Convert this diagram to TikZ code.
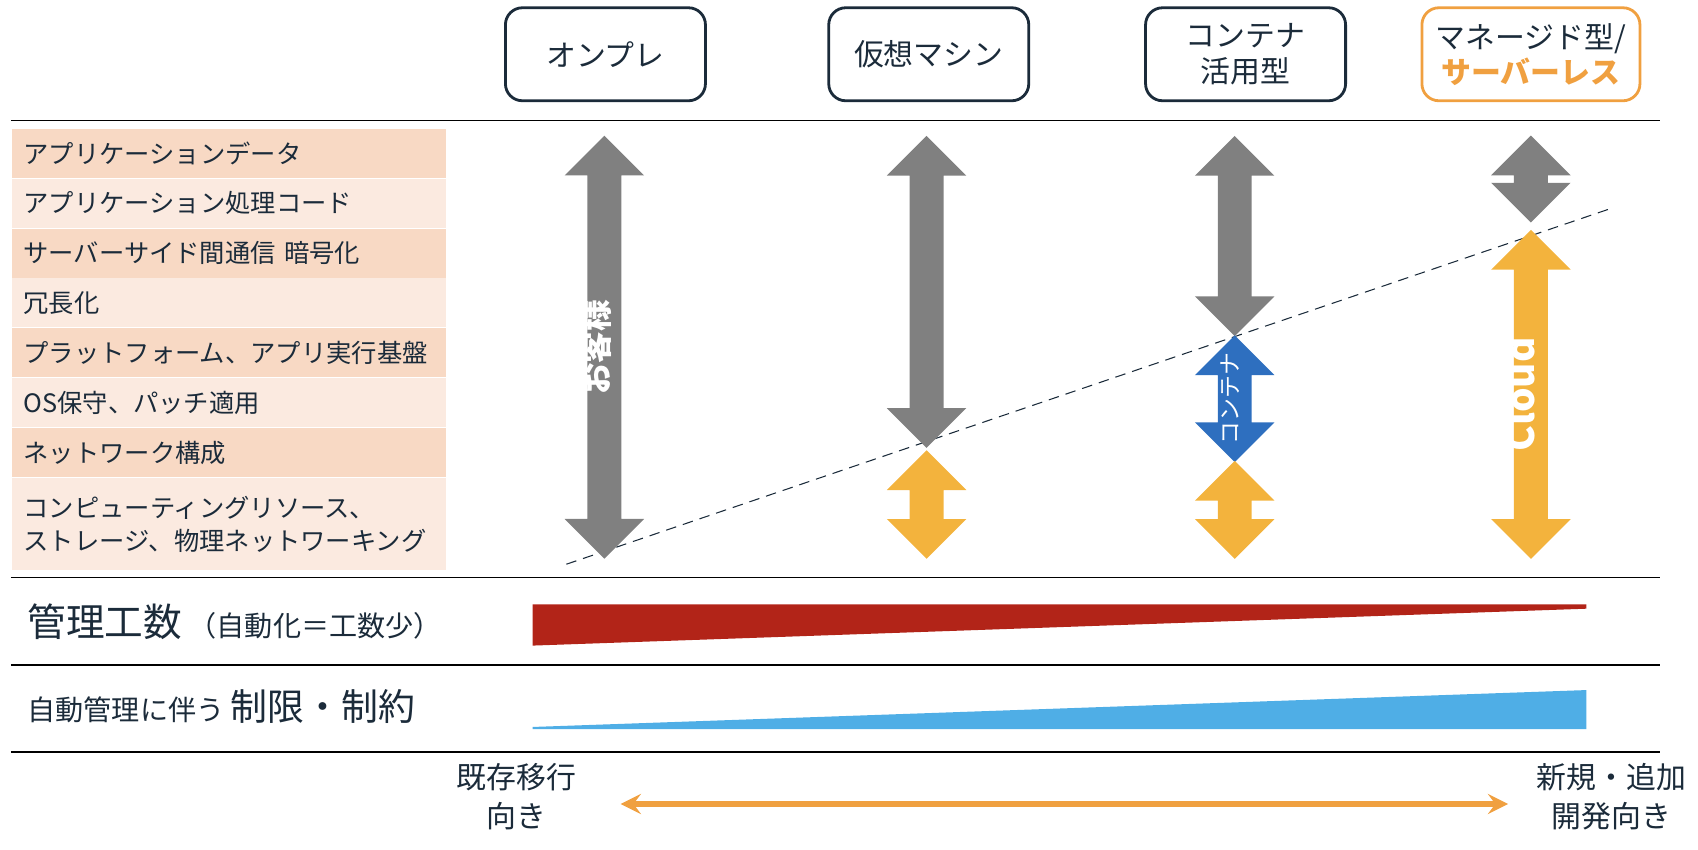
\documentclass[tikz,border=0pt]{standalone}
\usepackage{fontspec}
\setmainfont{Noto Sans CJK JP}
\usetikzlibrary{shapes.arrows, arrows}
\definecolor{navy}{HTML}{1B2B3A}
\definecolor{boxorange}{HTML}{F0A040}
\definecolor{rowdark}{HTML}{F8D9C4}
\definecolor{rowlight}{HTML}{FBEAE0}
\definecolor{agray}{HTML}{808080}
\definecolor{aorange}{HTML}{F3B33D}
\definecolor{ablue}{HTML}{2E6FBF}
\definecolor{wedgered}{HTML}{B22418}
\definecolor{wedgeblue}{HTML}{4FAEE6}
\tikzstyle{head} = [rectangle, rounded corners=0.17cm, minimum width=2cm, minimum height=0.93cm, text centered, align=center, draw=navy, line width=0.8pt, font=\fontsize{8.5}{10}\selectfont, text=navy]
\tikzstyle{rowd} = [rectangle, minimum width=4.34cm, minimum height=0.49cm, fill=rowdark, anchor=north west, inner sep=0.12cm, text width=4.1cm, align=left, font=\fontsize{7.2}{9.5}\selectfont, text=navy]
\tikzstyle{rowl} = [rowd, fill=rowlight]
\tikzstyle{darr} = [double arrow, rotate=90, text height=0.2cm, text depth=0.125cm, double arrow head extend=0.228cm, double arrow tip angle=90, inner sep=0pt, text=white, font=\fontsize{7.5}{9}\selectfont]
\tikzstyle{rule} = [line width=0.4pt, black]
\begin{document}
\begin{tikzpicture}[x=0.01085cm, y=-0.01085cm]
        \useasboundingbox (0,0) rectangle (1565,783);
        % headers
        \node (onp) [head] at (558,50) {オンプレ};
        \node (vm) [head] at (856,50) {仮想マシン};
        \node (ctr) [head] at (1148,50) {コンテナ\\活用型};
        \node (srv) [head, draw=boxorange, minimum width=2.18cm] at (1411,50) {マネージド型/\\\textcolor{boxorange}{\bfseries サーバーレス}};
        
        % rules
        \coordinate (r1a) at (10,111); \coordinate (r1b) at (1530,111);
        \coordinate (r2a) at (10,532); \coordinate (r2b) at (1530,532);
        \coordinate (r3a) at (10,613); \coordinate (r3b) at (1530,613);
        \coordinate (r4a) at (10,693); \coordinate (r4b) at (1530,693);
        \draw [rule] (r1a) -- (r1b);
        \draw [rule] (r2a) -- (r2b);
        \draw [rule] (r3a) -- (r3b);
        \draw [rule] (r4a) -- (r4b);
        
        % layers
        \node (l1) [rowd] at (10,118) {アプリケーションデータ};
        \node (l2) [rowl] at (10,164) {アプリケーション処理コード};
        \node (l3) [rowd] at (10,210) {サーバーサイド間通信 暗号化};
        \node (l4) [rowl] at (10,256) {冗長化};
        \node (l5) [rowd] at (10,302) {プラットフォーム、アプリ実行基盤};
        \node (l6) [rowl] at (10,348) {OS保守、パッチ適用};
        \node (l7) [rowd] at (10,394) {ネットワーク構成};
        \node (l8) [rowl, minimum height=0.92cm] at (10,440) {コンピューティングリソース、\\ストレージ、物理ネットワーキング};
        
        % boundary
        \coordinate (bs) at (522,520); \coordinate (be) at (1488,191);
        \draw [densely dashed, line width=0.3pt, navy] (bs) -- (be);
        
        % responsibility arrows
        \node (a1) [darr, fill=agray, minimum height=4.23cm] at (557,320) {\fontsize{9}{10}\selectfont\bfseries お客様};
        \node (a2u) [darr, fill=agray, minimum height=3.12cm] at (854,269) {};
        \node (a2c) [darr, fill=aorange, minimum height=1.085cm] at (854,465) {};
        \node (a3u) [darr, fill=agray, minimum height=2.0cm] at (1138,217.5) {};
        \node (a3k) [darr, fill=ablue, minimum height=1.25cm] at (1138,367.5) {\fontsize{6.5}{8}\selectfont コンテナ};
        \node (a3c) [darr, fill=aorange, minimum height=0.98cm] at (1138,470) {};
        \node (a4u) [darr, fill=agray, minimum height=0.87cm] at (1411,165) {};
        \node (a4c) [darr, fill=aorange, minimum height=3.29cm] at (1411,363.5) {\fontsize{11}{12}\selectfont\bfseries Cloud};
        
        % effort and limits
        \node (eff) [anchor=west, text=navy] at (14,573) {\fontsize{11}{13}\selectfont 管理工数\,\fontsize{8}{10}\selectfont（自動化＝工数少）};
        \fill [wedgered] (491,557) -- (1462,557) -- (1462,561) -- (491,595) -- cycle;
        \node (lim) [anchor=west, text=navy] at (14,651) {\fontsize{8}{10}\selectfont 自動管理に伴う \fontsize{10.5}{12}\selectfont 制限・制約};
        \fill [wedgeblue] (491,670) -- (1462,636) -- (1462,672) -- (491,672) -- cycle;
        
        % migration axis
        \node (old) [align=center, text=navy, font=\fontsize{8.5}{11}\selectfont] at (476,734) {既存移行\\向き};
        \node (new) [align=center, text=navy, font=\fontsize{8.5}{11}\selectfont] at (1485,734) {新規・追加\\開発向き};
        \coordinate (m1) at (572,741); \coordinate (m2) at (1390,741);
        \draw [line width=1.5pt, color=boxorange, <->, >=stealth] (m1) -- (m2);
\end{tikzpicture}
\end{document}
